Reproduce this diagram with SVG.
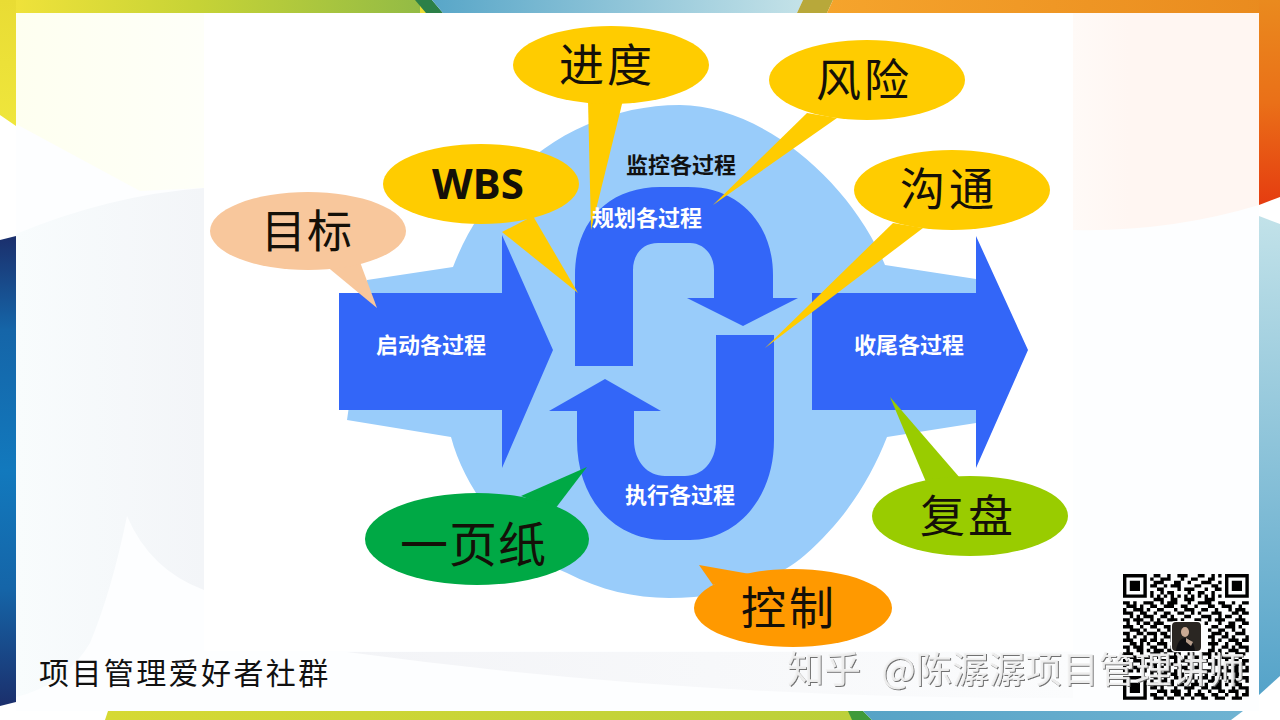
<svg xmlns="http://www.w3.org/2000/svg" width="1280" height="720" viewBox="0 0 1280 720">
<style>
.cjk{font-family:"Noto Sans CJK SC","Noto Sans",sans-serif}
.big{font-size:45px;fill:#141008}
.small{font-size:22px;font-weight:700}
.w{fill:#fff}
.b{fill:#111}
.gold{fill:#ffcc00}
.blue{fill:#3366f8}
</style>
<defs>
<linearGradient id="gTop1" x1="0" x2="1" y1="0" y2="0"><stop offset="0" stop-color="#efe23a"/><stop offset=".45" stop-color="#c6d336"/><stop offset="1" stop-color="#93bb45"/></linearGradient>
<linearGradient id="gTop2" x1="0" x2="1" y1="0" y2="0"><stop offset="0" stop-color="#58a6c8"/><stop offset="1" stop-color="#c4e2e8"/></linearGradient>
<linearGradient id="gTop3" x1="0" x2="1" y1="0" y2="0"><stop offset="0" stop-color="#f5a42c"/><stop offset="1" stop-color="#e98a1e"/></linearGradient>
<linearGradient id="gRed" x1="0" x2="0" y1="0" y2="1"><stop offset="0" stop-color="#ea8a1e"/><stop offset=".5" stop-color="#ea7018"/><stop offset="1" stop-color="#e53c10"/></linearGradient>
<linearGradient id="gLB" x1="0" x2="0" y1="0" y2="1"><stop offset="0" stop-color="#c2e2e9"/><stop offset="1" stop-color="#55a3c9"/></linearGradient>
<linearGradient id="gNavy" x1="0" x2="0" y1="0" y2="1"><stop offset="0" stop-color="#1b2f6c"/><stop offset=".2" stop-color="#1565a8"/><stop offset=".5" stop-color="#1279bd"/><stop offset=".75" stop-color="#1565a8"/><stop offset="1" stop-color="#1b2f6c"/></linearGradient>
<linearGradient id="gYel" x1="0" x2="0" y1="0" y2="1"><stop offset="0" stop-color="#e9dc34"/><stop offset="1" stop-color="#efe63c"/></linearGradient>
<linearGradient id="gBot1" x1="0" x2="1" y1="0" y2="0"><stop offset="0" stop-color="#d6d934"/><stop offset="1" stop-color="#bcd03a"/></linearGradient>
<linearGradient id="gBot2" x1="0" x2="1" y1="0" y2="0"><stop offset="0" stop-color="#57a3c6"/><stop offset="1" stop-color="#6fb3d2"/></linearGradient>
<linearGradient id="gGrey" x1="0" x2="1" y1="0" y2="0"><stop offset="0" stop-color="#f8fcfd"/><stop offset="1" stop-color="#f3f5f8"/></linearGradient>
<linearGradient id="gCream" x1="0" x2="1" y1="0" y2="0"><stop offset="0" stop-color="#fefff0"/><stop offset="1" stop-color="#fefff8"/></linearGradient>
<linearGradient id="gBand" x1="0" x2="1" y1="0" y2="0"><stop offset="0" stop-color="#f3f4f7"/><stop offset="1" stop-color="#fbfcfd"/></linearGradient>
<linearGradient id="gPink" x1="0" x2="1" y1="0" y2="0"><stop offset="0" stop-color="#fffaf7"/><stop offset=".3" stop-color="#fff6f2"/><stop offset="1" stop-color="#fff6f2"/></linearGradient>
<filter id="wm" x="-5%" y="-20%" width="110%" height="140%"><feDropShadow dx="1" dy="1" stdDeviation=".5" flood-color="#666"/></filter>
</defs>

<g id="background">
<rect width="1280" height="720" fill="#fff"/>
<rect x="16" y="13" width="1243" height="698" fill="#fdfeff"/>
<path d="M16 13H204V188L140 191L16 124Z" fill="url(#gCream)"/>
<path d="M16 234Q110 195 204 188V590Q150 570 127 516Q112 590 90 643Q65 685 16 697Z" fill="url(#gGrey)"/>
<path d="M1073 13H1259V205Q1170 232 1073 230Z" fill="url(#gPink)"/>
<path d="M347 652H1073V698Q700 700 347 652Z" fill="url(#gBand)"/>
<path d="M204 13H1073V651H204Z" fill="#fff"/>
<path d="M0 0H418L428 13H16V126L0 115Z" fill="url(#gYel)"/>
<rect x="16" y="0" width="404" height="13" fill="url(#gTop1)"/>
<path d="M415 0H432L443 13H426Z" fill="#2c8048"/>
<path d="M432 0H803L797 13H443Z" fill="url(#gTop2)"/>
<path d="M803 0H833L827 13H797Z" fill="#b8a83a"/>
<path d="M833 0H1280V13H827Z" fill="url(#gTop3)"/>
<path d="M1259 13V205L1280 197V0H1259Z" fill="url(#gRed)"/>
<path d="M1259 216L1280 224V676L1259 695Z" fill="url(#gLB)"/>
<path d="M0 240L16 236V702L0 706Z" fill="url(#gNavy)"/>
<path d="M108 711H852L858 720H105Z" fill="url(#gBot1)"/>
<path d="M848 711H863L872 720H852Z" fill="#3f9a3a"/>
<path d="M863 711H1243L1231 720H872Z" fill="url(#gBot2)"/>
</g>

<g id="cycle-field">
<path d="M367 280L453 267C490 170 580 105 680 105C760 105 850 180 885 265L976 279V423L887 437C870 480 845 520 805 555C770 585 720 598 669 598C635 598 600 590 567 573C510 550 465 490 451 437L347 420Z" fill="#99ccfa"/>
</g>

<g id="connectors">
<path id="arc-plan" class="blue" d="M575 366V275C575 220 610 187 660 187H688C740 187 773 225 773 275V298H798L743 326L687 298H714V270C714 253 702 243 690 243H658C642 243 633 255 633 270V366Z"/>
<path id="arc-exec" class="blue" d="M605 379L661 411H634V440C634 462 648 476 665 476H685C702 476 716 462 716 440V335H774V440C774 500 735 540 690 540H665C615 540 577 500 577 440V411H549Z"/>
</g>

<g id="node-start">
<path class="blue" d="M339 293H502V235L553 350L502 468V410H339Z"/>
<text class="cjk small w" x="376" y="353">启动各过程</text>
</g>
<g id="node-close">
<path class="blue" d="M812 293H976V236L1028 350L976 468V410H812Z"/>
<text class="cjk small w" x="854" y="353">收尾各过程</text>
</g>
<g id="node-monitor"><text class="cjk small b" x="626" y="173">监控各过程</text></g>
<g id="node-execute"><text class="cjk small w" x="625" y="503">执行各过程</text></g>

<g id="callout-goal">
<path d="M325 265L377 308L360 262Z" fill="#f8c79c"/>
<ellipse cx="308" cy="231" rx="98" ry="39" fill="#f8c79c"/>
<text class="cjk big" x="261" y="248" letter-spacing="1">目标</text>
</g>
<g id="callout-wbs">
<path class="gold" d="M502 232L578 293L533 216Z"/>
<ellipse class="gold" cx="481" cy="184" rx="98" ry="40"/>
<text x="478" y="199" text-anchor="middle" font-family="Open Sans, sans-serif" font-weight="700" font-size="42" fill="#141008">WBS</text>
</g>
<g id="callout-schedule">
<path class="gold" d="M588 100L591 230L623 100Z"/>
<ellipse class="gold" cx="611" cy="65" rx="98" ry="39"/>
<text class="cjk big" x="559" y="82" letter-spacing="3">进度</text>
</g>
<g id="callout-risk">
<path class="gold" d="M807 113L713 205L837 118Z"/>
<ellipse class="gold" cx="867" cy="80" rx="98" ry="40"/>
<text class="cjk big" x="816" y="97" letter-spacing="3">风险</text>
</g>
<g id="callout-comm">
<path class="gold" d="M893 223L765 348L923 228Z"/>
<ellipse class="gold" cx="952" cy="190" rx="98" ry="40"/>
<text class="cjk big" x="900" y="206" letter-spacing="4">沟通</text>
</g>
<g id="callout-onepage">
<path d="M521 496L587 467L555 509Z" fill="#00a945"/>
<ellipse cx="477" cy="539" rx="112" ry="46" fill="#00a945"/>
<text class="cjk big" x="400" y="562" style="font-size:48px" letter-spacing="1">一页纸</text>
</g>
<g id="callout-control">
<path d="M713 585L699 565L750 574Z" fill="#ff9900"/>
<ellipse cx="793" cy="608" rx="99" ry="39" fill="#ff9900"/>
<text class="cjk big" x="741" y="625" letter-spacing="3">控制</text>
</g>
<g id="callout-review">
<path d="M926 482L890 397L960 478Z" fill="#99cc00"/>
<ellipse cx="970" cy="516" rx="98" ry="40" fill="#99cc00"/>
<text class="cjk big" x="920" y="533" letter-spacing="3">复盘</text>
</g>
<g id="node-plan"><text class="cjk small w" x="592" y="226">规划各过程</text></g>

<g id="caption"><text class="cjk b" x="39" y="684" font-size="30" letter-spacing="2.4">项目管理爱好者社群</text></g>

<g id="qr">
<path transform="translate(1123 574) scale(3.4)" fill="none" stroke="#000" stroke-width="1" d="
M0 .5h7M9 .5h2M13 .5h1M16 .5h3M22 .5h2M26 .5h1M28 .5h1M30 .5h7
M0 1.5h1M6 1.5h1M8 1.5h1M11 1.5h3M17 1.5h1M20 1.5h2M25 1.5h2M30 1.5h1M36 1.5h1
M0 2.5h1M2 2.5h3M6 2.5h1M9 2.5h3M15 2.5h2M19 2.5h1M23 2.5h3M28 2.5h1M30 2.5h1M32 2.5h3M36 2.5h1
M0 3.5h1M2 3.5h3M6 3.5h1M8 3.5h2M12 3.5h1M14 3.5h3M21 3.5h2M26 3.5h2M30 3.5h1M32 3.5h3M36 3.5h1
M0 4.5h1M2 4.5h3M6 4.5h1M10 4.5h2M16 4.5h1M18 4.5h3M24 4.5h1M27 4.5h2M30 4.5h1M32 4.5h3M36 4.5h1
M0 5.5h1M6 5.5h1M8 5.5h1M11 5.5h1M13 5.5h2M19 5.5h1M22 5.5h2M26 5.5h1M30 5.5h1M36 5.5h1
M0 6.5h7M8 6.5h1M10 6.5h1M12 6.5h1M14 6.5h1M16 6.5h1M18 6.5h1M20 6.5h1M22 6.5h1M24 6.5h1M26 6.5h1M28 6.5h1M30 6.5h7
M9 7.5h3M14 7.5h2M18 7.5h3M24 7.5h3
M0 8.5h2M3 8.5h1M6 8.5h3M11 8.5h1M13 8.5h3M19 8.5h1M22 8.5h4M28 8.5h2M32 8.5h1M35 8.5h2
M1 9.5h3M5 9.5h1M8 9.5h2M12 9.5h3M17 9.5h2M21 9.5h1M25 9.5h2M29 9.5h3M34 9.5h1
M0 10.5h1M3 10.5h3M7 10.5h1M10 10.5h2M15 10.5h1M18 10.5h3M23 10.5h2M27 10.5h1M31 10.5h1M33 10.5h3
M0 11.5h3M5 11.5h2M9 11.5h1M12 11.5h2M16 11.5h2M20 11.5h1M22 11.5h1M26 11.5h3M32 11.5h2M35 11.5h2
M2 12.5h1M4 12.5h1M6 12.5h3M11 12.5h2M14 12.5h1M18 12.5h2M23 12.5h3M28 12.5h1M30 12.5h2M34 12.5h1
M0 13.5h2M3 13.5h3M8 13.5h1M10 13.5h1M13 13.5h3M17 13.5h1M21 13.5h2M25 13.5h1M27 13.5h3M33 13.5h3
M1 14.5h1M4 14.5h1M6 14.5h2M9 14.5h3M15 14.5h1M19 14.5h3M24 14.5h1M28 14.5h1M31 14.5h2M35 14.5h2
M0 15.5h3M5 15.5h1M8 15.5h2M12 15.5h2M16 15.5h2M26 15.5h2M30 15.5h3M34 15.5h1
M2 16.5h3M6 16.5h1M10 16.5h1M13 16.5h1M15 16.5h1M25 16.5h1M28 16.5h2M32 16.5h1M35 16.5h1
M0 17.5h2M4 17.5h2M7 17.5h3M11 17.5h2M14 17.5h1M26 17.5h3M30 17.5h1M33 17.5h3
M1 18.5h1M3 18.5h1M6 18.5h1M9 18.5h1M12 18.5h2M25 18.5h2M29 18.5h2M32 18.5h1M36 18.5h1
M0 19.5h3M5 19.5h2M8 19.5h2M11 19.5h1M14 19.5h1M26 19.5h1M28 19.5h1M31 19.5h3M35 19.5h2
M2 20.5h2M5 20.5h1M7 20.5h1M10 20.5h3M25 20.5h3M30 20.5h1M33 20.5h2
M0 21.5h2M3 21.5h3M8 21.5h2M12 21.5h1M14 21.5h1M26 21.5h1M29 21.5h2M32 21.5h1M34 21.5h3
M1 22.5h1M4 22.5h2M7 22.5h1M9 22.5h3M13 22.5h2M25 22.5h2M28 22.5h1M31 22.5h3M36 22.5h1
M0 23.5h3M5 23.5h1M8 23.5h3M12 23.5h1M15 23.5h2M19 23.5h2M23 23.5h3M27 23.5h2M30 23.5h1M33 23.5h3
M2 24.5h2M6 24.5h2M10 24.5h1M13 24.5h3M18 24.5h1M21 24.5h2M25 24.5h1M29 24.5h3M34 24.5h1
M0 25.5h1M3 25.5h3M8 25.5h1M11 25.5h2M15 25.5h1M17 25.5h3M23 25.5h2M27 25.5h1M30 25.5h1M32 25.5h2M35 25.5h2
M1 26.5h2M5 26.5h1M7 26.5h3M12 26.5h1M14 26.5h2M19 26.5h1M22 26.5h1M25 26.5h3M31 26.5h1M33 26.5h3
M0 27.5h1M3 27.5h2M6 27.5h1M9 27.5h1M11 27.5h1M13 27.5h1M16 27.5h3M21 27.5h2M26 27.5h1M28 27.5h3M32 27.5h2M36 27.5h1
M0 28.5h3M4 28.5h1M6 28.5h1M8 28.5h2M12 28.5h2M15 28.5h1M18 28.5h2M23 28.5h3M28 28.5h1M30 28.5h4M35 28.5h2
M8 29.5h1M10 29.5h3M14 29.5h2M17 29.5h1M20 29.5h1M24 29.5h1M27 29.5h3M33 29.5h2
M0 30.5h7M9 30.5h2M12 30.5h1M15 30.5h3M19 30.5h2M22 30.5h3M26 30.5h1M29 30.5h2M33 30.5h1M35 30.5h2
M0 31.5h1M6 31.5h1M8 31.5h1M11 31.5h2M14 31.5h1M18 31.5h1M21 31.5h1M25 31.5h2M28 31.5h1M31 31.5h3M36 31.5h1
M0 32.5h1M2 32.5h3M6 32.5h1M9 32.5h3M13 32.5h2M16 32.5h2M20 32.5h3M24 32.5h1M27 32.5h2M30 32.5h1M33 32.5h2
M0 33.5h1M2 33.5h3M6 33.5h1M8 33.5h2M11 33.5h1M15 33.5h1M18 33.5h3M23 33.5h2M26 33.5h3M32 33.5h1M34 33.5h3
M0 34.5h1M2 34.5h3M6 34.5h1M10 34.5h3M14 34.5h3M19 34.5h1M22 34.5h1M25 34.5h1M28 34.5h2M31 34.5h3M36 34.5h1
M0 35.5h1M6 35.5h1M8 35.5h2M12 35.5h1M15 35.5h2M18 35.5h2M21 35.5h3M26 35.5h2M30 35.5h1M33 35.5h1M35 35.5h2
M0 36.5h7M9 36.5h3M13 36.5h2M17 36.5h1M20 36.5h1M23 36.5h2M27 36.5h3M32 36.5h3"/>
<rect x="1171" y="621" width="31" height="31" rx="4" fill="#fff"/>
<rect x="1172" y="622" width="29" height="29" rx="4" fill="#2a2622"/>
<ellipse cx="1185" cy="632" rx="4" ry="5" fill="#c9aa94"/>
<path d="M1176 651C1177 642 1181 638 1185 638C1190 638 1194 642 1195 651Z" fill="#0f0f12"/>
<path d="M1186 638L1193 642L1191 646L1186 642Z" fill="#b79d8b"/>
</g>

<g id="watermark" filter="url(#wm)"><text class="cjk" x="787" y="683" font-size="37" fill="#f2f2f2" fill-opacity=".92">知乎</text><text class="cjk" x="881" y="683" font-size="36.6" fill="#f2f2f2" fill-opacity=".92">@陈潺潺项目管理讲师</text></g>
</svg>
